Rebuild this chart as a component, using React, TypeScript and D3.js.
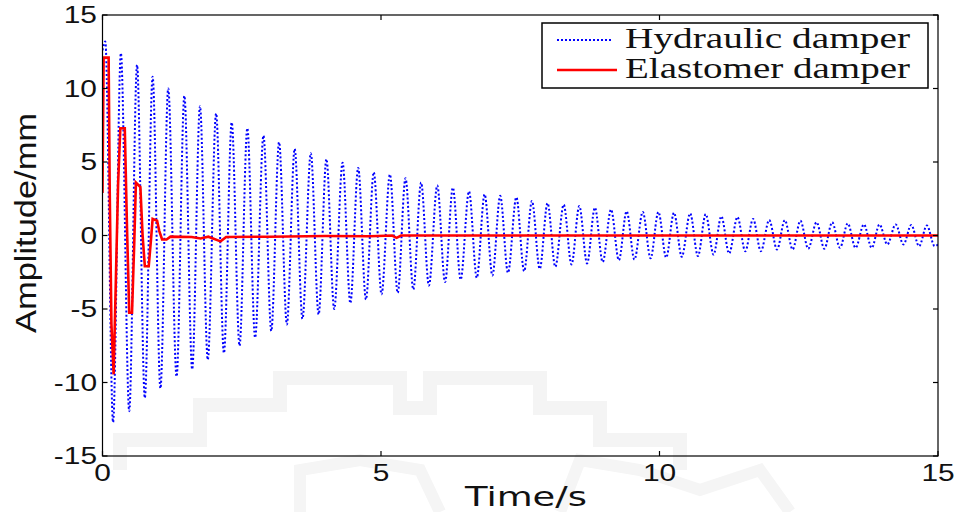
import React from "react";
import * as d3 from "d3";

// ---------- data ----------
const xTicks = [0, 5, 10, 15];
const yTicks = [-15, -10, -5, 0, 5, 10, 15];

// Hydraulic damper: successive peaks and troughs of the decaying oscillation
const hydStart = { t: 0, v: 12.6 };
const hydPeakT = [0.05, 0.33, 0.62, 0.90, 1.18, 1.47, 1.75, 2.04, 2.32, 2.60, 2.89, 3.17, 3.45, 3.74, 4.02, 4.31, 4.59, 4.87, 5.16, 5.44, 5.72, 6.01, 6.29, 6.58, 6.86, 7.14, 7.43, 7.71, 7.99, 8.28, 8.56, 8.84, 9.13, 9.41, 9.70, 9.98, 10.26, 10.55, 10.83, 11.11, 11.40, 11.68, 11.97, 12.25, 12.53, 12.82, 13.10, 13.38, 13.67, 13.95, 14.24, 14.52, 14.80];
const hydPeakV = [13.2, 12.4, 11.6, 10.8, 10.0, 9.5, 8.8, 8.3, 7.7, 7.3, 6.8, 6.35, 5.9, 5.6, 5.2, 4.95, 4.6, 4.3, 4.15, 3.9, 3.6, 3.4, 3.25, 3.0, 2.8, 2.7, 2.6, 2.35, 2.2, 2.1, 2.0, 1.9, 1.77, 1.65, 1.6, 1.6, 1.55, 1.5, 1.45, 1.3, 1.25, 1.13, 1.05, 1.04, 1.0, 0.9, 0.9, 0.82, 0.75, 0.75, 0.75, 0.72, 0.68];
const hydTroughT = [0.19, 0.48, 0.76, 1.04, 1.33, 1.61, 1.89, 2.18, 2.46, 2.74, 3.03, 3.31, 3.59, 3.88, 4.16, 4.45, 4.73, 5.01, 5.30, 5.58, 5.86, 6.15, 6.43, 6.72, 7.00, 7.28, 7.57, 7.85, 8.13, 8.42, 8.70, 8.98, 9.27, 9.55, 9.84, 10.12, 10.40, 10.69, 10.97, 11.25, 11.54, 11.82, 12.11, 12.39, 12.67, 12.96, 13.24, 13.52, 13.81, 14.09, 14.38, 14.66, 14.94];
const hydTroughV = [-12.7, -11.95, -11.05, -10.4, -9.6, -9.1, -8.45, -8.0, -7.5, -6.95, -6.5, -6.05, -5.67, -5.37, -5.0, -4.6, -4.35, -4.0, -3.9, -3.67, -3.4, -3.17, -3.0, -2.88, -2.72, -2.54, -2.43, -2.27, -2.13, -1.97, -1.9, -1.8, -1.68, -1.63, -1.55, -1.5, -1.45, -1.4, -1.3, -1.22, -1.07, -1.07, -0.95, -0.95, -0.9, -0.9, -0.84, -0.84, -0.84, -0.61, -0.61, -0.73, -0.73];
const hydEnd = { t: 15, v: -0.6 };

// Elastomer damper
const elaT = [0.0, 0.02, 0.11, 0.13, 0.16, 0.20, 0.24, 0.28, 0.32, 0.40, 0.44, 0.48, 0.53, 0.57, 0.60, 0.68, 0.72, 0.76, 0.83, 0.87, 0.90, 0.98, 1.02, 1.07, 1.15, 1.22, 1.60, 1.76, 1.90, 2.12, 2.22, 3.0, 4.0, 4.8, 5.2, 5.28, 5.36, 6.5, 8.0, 10.0, 12.0, 14.0, 15.0];
const elaV = [2.9, 12.1, 12.1, 2.9, -6.0, -9.45, -3.0, 3.5, 7.3, 7.3, 0.5, -5.26, -5.26, -0.5, 3.6, 3.3, 0.0, -2.09, -2.09, -0.3, 1.13, 1.0, 0.3, -0.27, -0.27, -0.08, -0.1, -0.2, -0.08, -0.4, -0.1, -0.08, -0.03, -0.05, 0.0, -0.16, 0.0, 0.0, 0.0, 0.0, 0.0, 0.0, 0.0];

const legendLabels = ["Hydraulic damper", "Elastomer damper"];

// ---------- layout ----------
const W = 958;
const H = 512;
const L = 102.5, R = 938, T = 15, B = 456;

export default function App() {
  const x = d3.scaleLinear().domain([0, 15]).range([L, R]);
  const y = d3.scaleLinear().domain([-15, 15]).range([B, T]);

  const hyd: { t: number; v: number }[] = [hydStart];
  hydPeakT.forEach((t, i) => {
    hyd.push({ t, v: hydPeakV[i] });
    hyd.push({ t: hydTroughT[i], v: hydTroughV[i] });
  });
  hyd.push(hydEnd);
  const ela = elaT.map((t, i) => ({ t, v: elaV[i] }));

  const hydLine = d3
    .line<{ t: number; v: number }>()
    .x((d) => x(d.t))
    .y((d) => y(d.v))
    .curve(d3.curveMonotoneX);
  const elaLine = d3
    .line<{ t: number; v: number }>()
    .x((d) => x(d.t))
    .y((d) => y(d.v));

  const tickLen = 5;
  const sx = 1.3;

  return (
    <svg
      width={W}
      height={H}
      style={{ position: "absolute", left: 0, top: 0, background: "#fff" }}
    >
      <defs>
        <clipPath id="plotclip">
          <rect x={L} y={T} width={R - L} height={B - T} />
        </clipPath>
      </defs>
      {/* faint watermark */}
      <path
        d="M120 470 L120 440 L200 440 L200 405 L280 405 L280 378 L400 378 L400 408 L430 408 L430 378 L540 378 L540 408 L600 408 L600 440 L680 440 L680 470"
        fill="none"
        stroke="#f4f4f4"
        strokeWidth={14}
      />
      <path
        d="M300 512 L300 470 L360 460 L420 470 L440 512 M560 512 L580 460 L640 470 L700 490 L760 470 L790 512"
        fill="none"
        stroke="#f5f5f5"
        strokeWidth={12}
      />

      {/* data */}
      <g clipPath="url(#plotclip)">
        <path
          d={hydLine(hyd) || ""}
          fill="none"
          stroke="#0000ff"
          strokeWidth={2}
          strokeDasharray="2 2.2"
        />
        <path
          d={elaLine(ela) || ""}
          fill="none"
          stroke="#ff0000"
          strokeWidth={2.6}
          strokeLinejoin="miter"
        />
      </g>

      {/* axes box */}
      <rect x={L} y={T} width={R - L} height={B - T} fill="none" stroke="#000" strokeWidth={1.2} />
      {xTicks.map((t) => (
        <g key={"xt" + t}>
          <line x1={x(t)} x2={x(t)} y1={B} y2={B - tickLen} stroke="#000" strokeWidth={1.2} />
          <line x1={x(t)} x2={x(t)} y1={T} y2={T + tickLen} stroke="#000" strokeWidth={1.2} />
          <text
            transform={`translate(${x(t)},${481}) scale(${sx},1)`}
            textAnchor="middle"
            fontFamily="Liberation Sans, Arial, sans-serif"
            fontSize={23}
            fill="#111"
          >
            {t}
          </text>
        </g>
      ))}
      {yTicks.map((v) => (
        <g key={"yt" + v}>
          <line x1={L} x2={L + tickLen} y1={y(v)} y2={y(v)} stroke="#000" strokeWidth={1.2} />
          <line x1={R} x2={R - tickLen} y1={y(v)} y2={y(v)} stroke="#000" strokeWidth={1.2} />
          <text
            transform={`translate(${97},${y(v) + 8}) scale(${sx},1)`}
            textAnchor="end"
            fontFamily="Liberation Sans, Arial, sans-serif"
            fontSize={23}
            fill="#111"
          >
            {v}
          </text>
        </g>
      ))}

      {/* axis titles */}
      <text
        x={526}
        y={506}
        textAnchor="middle"
        fontFamily="DejaVu Sans, Verdana, sans-serif"
        fontSize={27}
        textLength={122}
        lengthAdjust="spacingAndGlyphs"
        fill="#111"
      >
        Time/s
      </text>
      <text
        transform="translate(36,223) rotate(-90)"
        textAnchor="middle"
        fontFamily="Liberation Sans, Arial, sans-serif"
        fontSize={30}
        textLength={220}
        lengthAdjust="spacingAndGlyphs"
        fill="#111"
      >
        Amplitude/mm
      </text>

      {/* legend */}
      <rect x={542} y={23} width={386} height={65} fill="#fff" stroke="#000" strokeWidth={1.5} />
      <line x1={557} x2={613} y1={40} y2={40} stroke="#0000ff" strokeWidth={2} strokeDasharray="2 2" />
      <line x1={557} x2={617} y1={70} y2={70} stroke="#ff0000" strokeWidth={2.4} />
      {legendLabels.map((s, i) => (
        <text
          key={s}
          x={625}
          y={48 + i * 30}
          fontFamily="Liberation Serif, Times New Roman, serif"
          fontSize={29}
          textLength={285}
          lengthAdjust="spacingAndGlyphs"
          fill="#111"
        >
          {s}
        </text>
      ))}
    </svg>
  );
}
